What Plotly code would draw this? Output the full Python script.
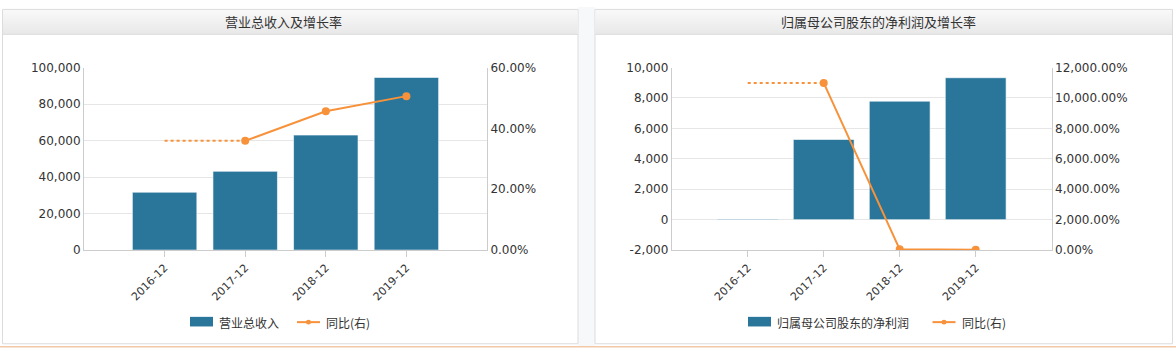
import plotly.graph_objects as go

# ---------------- data ----------------
categories = ["2016-12", "2017-12", "2018-12", "2019-12"]

revenue = [31700, 43150, 63000, 94600]          # 营业总收入
revenue_growth = [None, 35.9, 45.6, 50.6]         # 同比(右) %

net_profit = [47, 5270, 7790, 9330]               # 归属母公司股东的净利润
net_profit_growth = [None, 10990, 47.8, 19.8]     # 同比(右) %

profit_tick_values = [-2000, 0, 2000, 4000, 6000, 8000, 10000]
profit_tick_labels = ["-2,000", "0", "2,000", "4,000", "6,000", "8,000", "10,000"]

left_title = "营业总收入及增长率"
right_title = "归属母公司股东的净利润及增长率"
left_bar_name = "营业总收入"
right_bar_name = "归属母公司股东的净利润"
line_name = "同比(右)"

# ---------------- style ----------------
W, H = 1176, 357
BAR = "#2a769b"
ORANGE = "#f7923a"
GRID = "#e6e6e6"
AXIS = "#cccccc"
TXT = "#333333"
TICKFONT = dict(family="DejaVu Sans, Verdana, sans-serif", size=12, color=TXT)
XTICKFONT = dict(family="DejaVu Sans, Verdana, sans-serif", size=11, color=TXT)
CJK = "Noto Sans CJK SC, Microsoft YaHei, sans-serif"


def px(x):
    return x / W


def py(y):
    return 1 - y / H


fig = go.Figure()

# left panel traces
fig.add_trace(go.Bar(x=categories, y=revenue, name=left_bar_name, marker_color=BAR,
                     marker_line=dict(color="rgba(255,255,255,0.6)", width=1),
                     xaxis="x", yaxis="y", width=0.8, showlegend=False))
fig.add_trace(go.Scatter(x=categories[:2], y=[revenue_growth[1], revenue_growth[1]],
                         mode="lines", line=dict(color=ORANGE, width=2, dash="dot"),
                         xaxis="x", yaxis="y2", showlegend=False, hoverinfo="skip"))
fig.add_trace(go.Scatter(x=categories, y=revenue_growth, name=line_name, mode="lines+markers",
                         line=dict(color=ORANGE, width=2), marker=dict(size=8, color=ORANGE),
                         xaxis="x", yaxis="y2", showlegend=False))

# right panel traces
fig.add_trace(go.Bar(x=categories, y=net_profit, name=right_bar_name, marker_color=BAR,
                     marker_line=dict(color="rgba(255,255,255,0.6)", width=1),
                     xaxis="x2", yaxis="y3", width=0.8, showlegend=False))
fig.add_trace(go.Scatter(x=categories[:2], y=[net_profit_growth[1], net_profit_growth[1]],
                         mode="lines", line=dict(color=ORANGE, width=2, dash="dot"),
                         xaxis="x2", yaxis="y4", showlegend=False, hoverinfo="skip"))
fig.add_trace(go.Scatter(x=categories, y=net_profit_growth, name=line_name, mode="lines+markers",
                         line=dict(color=ORANGE, width=2), marker=dict(size=8, color=ORANGE),
                         xaxis="x2", yaxis="y4", showlegend=False))

ydom = [py(253), py(63)]
xcommon = dict(type="category", range=[-1, 4], showline=True, linecolor=AXIS, linewidth=1,
               ticks="outside", ticklen=6, tickcolor=AXIS, tickangle=-45, tickfont=XTICKFONT,
               showgrid=False, zeroline=False, fixedrange=True)
ycommon = dict(showline=True, linecolor=AXIS, linewidth=1, gridcolor=GRID, gridwidth=1,
               tickfont=TICKFONT, zeroline=False, ticks="", fixedrange=True)

fig.update_layout(
    width=W, height=H,
    margin=dict(l=0, r=0, t=0, b=0),
    paper_bgcolor="white", plot_bgcolor="rgba(0,0,0,0)",
    showlegend=False,
    xaxis=dict(domain=[px(84), px(487)], anchor="y", **xcommon),
    yaxis=dict(domain=ydom, anchor="x", range=[0, 100000], dtick=20000, tickformat=",",
               **ycommon),
    yaxis2=dict(overlaying="y", side="right", anchor="x", range=[0, 60], dtick=20,
                tickformat=".2f", ticksuffix="%", showgrid=False, showline=True,
                linecolor=AXIS, tickfont=TICKFONT, zeroline=False, ticks="", fixedrange=True),
    xaxis2=dict(domain=[px(671.7), px(1051.7)], anchor="y3", **xcommon),
    yaxis3=dict(domain=ydom, anchor="x2", range=[-2000, 10000], tickmode="array",
                tickvals=profit_tick_values, ticktext=profit_tick_labels, **ycommon),
    yaxis4=dict(overlaying="y3", side="right", anchor="x2", range=[0, 12000], dtick=2000,
                tickformat=",.2f", ticksuffix="%", showgrid=False, showline=True,
                linecolor=AXIS, tickfont=TICKFONT, zeroline=False, ticks="", fixedrange=True),
)

shapes = []
annotations = []


def rect(x0, y0, x1, y1, fill, line=None, lw=0, layer="below"):
    shapes.append(dict(type="rect", xref="paper", yref="paper", x0=px(x0), x1=px(x1),
                       y0=py(y1), y1=py(y0), fillcolor=fill,
                       line=dict(color=line or fill, width=lw), layer=layer))


# gap between panels and bottom strip
rect(578, 0, 595, 353, "#f7f8fa")
shapes.append(dict(type="line", xref="paper", yref="paper", x0=0, x1=1, y0=py(353.5), y1=py(353.5),
                   line=dict(color="#f3c8a6", width=1.5), layer="below"))

panels = [(2.5, 578), (595, 1172.5)]
for (xa, xb) in panels:
    rect(xa, 2.5, xb, 350.5, "white", line="#dcdcdc", lw=1)
    # gradient title bar
    steps = 12
    top, bot = 3, 28
    for i in range(steps):
        t = i / (steps - 1)
        c = int(round(248 - t * (248 - 233)))
        y0 = top + (bot - top) * i / steps
        y1 = top + (bot - top) * (i + 1) / steps + 0.3
        rect(xa + 0.5, y0, xb - 0.5, y1, f"rgb({c},{c},{c})")
    shapes.append(dict(type="line", xref="paper", yref="paper", x0=px(xa), x1=px(xb),
                       y0=py(28.5), y1=py(28.5), line=dict(color="#dcdcdc", width=1),
                       layer="below"))

# titles
for (xc, text) in [(283, left_title), (878, right_title)]:
    annotations.append(dict(xref="paper", yref="paper", x=px(xc), y=py(15.5), text=text,
                            showarrow=False, xanchor="center", yanchor="middle",
                            font=dict(family=CJK, size=13, color=TXT)))


# manual legends
def legend(bx, name, lx):
    rect(bx, 322.5, bx + 23, 332.5, BAR, layer="above")
    annotations.append(dict(xref="paper", yref="paper", x=px(bx + 27), y=py(328), text=name,
                            showarrow=False, xanchor="left", yanchor="middle",
                            font=dict(family=CJK, size=12, color=TXT)))
    shapes.append(dict(type="line", xref="paper", yref="paper", x0=px(lx), x1=px(lx + 23),
                       y0=py(328), y1=py(328), line=dict(color=ORANGE, width=2), layer="above"))
    shapes.append(dict(type="circle", xref="paper", yref="paper", x0=px(lx + 9), x1=px(lx + 14),
                       y0=py(330.5), y1=py(325.5), fillcolor=ORANGE,
                       line=dict(color=ORANGE, width=0), layer="above"))
    annotations.append(dict(xref="paper", yref="paper", x=px(lx + 27), y=py(328), text=line_name,
                            showarrow=False, xanchor="left", yanchor="middle",
                            font=dict(family=CJK, size=12, color=TXT)))


legend(190, left_bar_name, 297)
legend(748, right_bar_name, 932.5)

fig.update_layout(shapes=shapes, annotations=annotations)
fig.write_html("out.html", config={"displayModeBar": False},
               post_script="document.body.style.margin='0';document.body.style.overflow='hidden';")
